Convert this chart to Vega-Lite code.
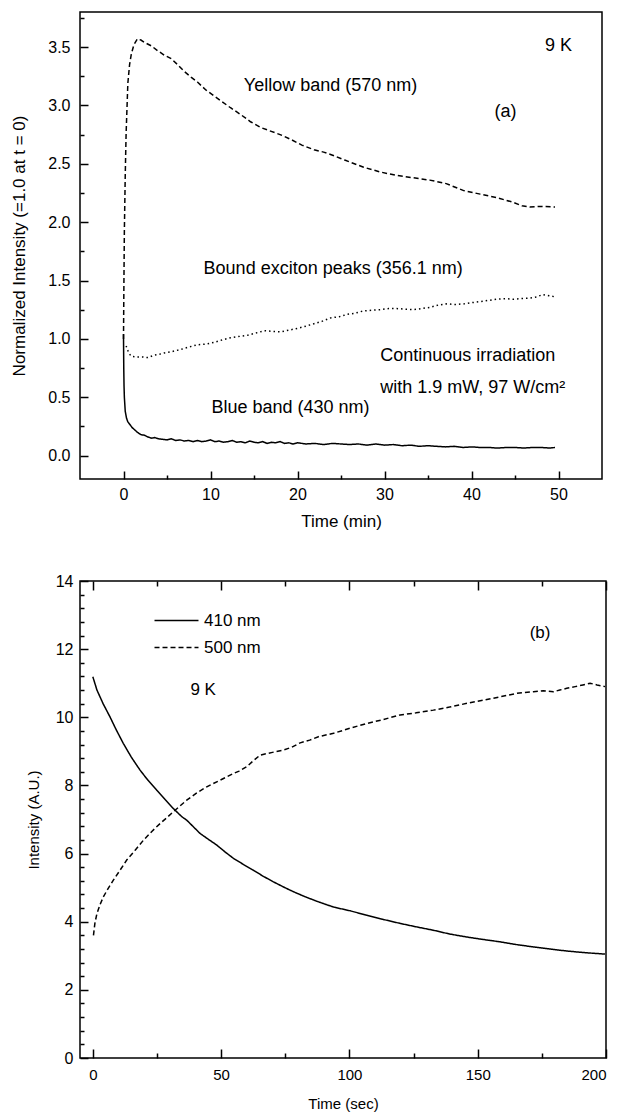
{
  "$schema": "https://vega.github.io/schema/vega-lite/v6.json",
  "padding": {"left": 10, "top": 9, "right": 5, "bottom": 5},
  "spacing": 42,
  "resolve": {"scale": {"strokeDash": "independent"}, "legend": {"strokeDash": "independent"}},
  "config": {
    "font": "Liberation Sans",
    "view": {"stroke": "black", "strokeWidth": 1.5},
    "axis": {"grid": false, "domain": false, "labelColor": "black", "titleColor": "black", "tickColor": "black", "tickWidth": 1.5, "titleFontWeight": "normal", "labelFontSize": 16, "titleFontSize": 17, "labelOverlap": false, "tickCount": 100}
  },
  "datasets": {
    "a": [
      {"t": 0, "v": 1.0, "s": "yellow"}, {"t": 0.05, "v": 1.5, "s": "yellow"}, {"t": 0.1, "v": 1.93, "s": "yellow"}, {"t": 0.2, "v": 2.4, "s": "yellow"}, {"t": 0.3, "v": 2.76, "s": "yellow"}, {"t": 0.5, "v": 3.19, "s": "yellow"}, {"t": 0.7, "v": 3.35, "s": "yellow"}, {"t": 0.9, "v": 3.44, "s": "yellow"}, {"t": 1.2, "v": 3.52, "s": "yellow"}, {"t": 1.6, "v": 3.57, "s": "yellow"}, {"t": 2.0, "v": 3.56, "s": "yellow"}, {"t": 2.4, "v": 3.54, "s": "yellow"}, {"t": 3.2, "v": 3.51, "s": "yellow"}, {"t": 3.9, "v": 3.47, "s": "yellow"}, {"t": 4.7, "v": 3.43, "s": "yellow"}, {"t": 5.5, "v": 3.4, "s": "yellow"}, {"t": 6.2, "v": 3.35, "s": "yellow"}, {"t": 7.0, "v": 3.29, "s": "yellow"}, {"t": 7.8, "v": 3.24, "s": "yellow"}, {"t": 8.5, "v": 3.2, "s": "yellow"}, {"t": 9.5, "v": 3.13, "s": "yellow"}, {"t": 10.8, "v": 3.06, "s": "yellow"}, {"t": 12.3, "v": 2.98, "s": "yellow"}, {"t": 13.5, "v": 2.92, "s": "yellow"}, {"t": 14.6, "v": 2.86, "s": "yellow"}, {"t": 15.8, "v": 2.81, "s": "yellow"}, {"t": 16.9, "v": 2.78, "s": "yellow"}, {"t": 18, "v": 2.75, "s": "yellow"}, {"t": 19.2, "v": 2.71, "s": "yellow"}, {"t": 20.5, "v": 2.66, "s": "yellow"}, {"t": 21.9, "v": 2.62, "s": "yellow"}, {"t": 23, "v": 2.6, "s": "yellow"}, {"t": 23.8, "v": 2.58, "s": "yellow"}, {"t": 25.5, "v": 2.53, "s": "yellow"}, {"t": 27.6, "v": 2.47, "s": "yellow"}, {"t": 29.5, "v": 2.43, "s": "yellow"}, {"t": 31.4, "v": 2.4, "s": "yellow"}, {"t": 33.3, "v": 2.38, "s": "yellow"}, {"t": 35.2, "v": 2.36, "s": "yellow"}, {"t": 37.1, "v": 2.33, "s": "yellow"}, {"t": 39.1, "v": 2.27, "s": "yellow"}, {"t": 41, "v": 2.24, "s": "yellow"}, {"t": 42.9, "v": 2.21, "s": "yellow"}, {"t": 44.8, "v": 2.17, "s": "yellow"}, {"t": 45.8, "v": 2.14, "s": "yellow"}, {"t": 46.7, "v": 2.13, "s": "yellow"}, {"t": 48, "v": 2.135, "s": "yellow"}, {"t": 49.6, "v": 2.13, "s": "yellow"},
      {"t": 0.3, "v": 0.94, "s": "bound"}, {"t": 0.6, "v": 0.88, "s": "bound"}, {"t": 0.9, "v": 0.85, "s": "bound"}, {"t": 1.5, "v": 0.845, "s": "bound"}, {"t": 2.2, "v": 0.845, "s": "bound"}, {"t": 2.8, "v": 0.84, "s": "bound"}, {"t": 3.5, "v": 0.86, "s": "bound"}, {"t": 4.2, "v": 0.87, "s": "bound"}, {"t": 4.7, "v": 0.88, "s": "bound"}, {"t": 5.5, "v": 0.89, "s": "bound"}, {"t": 6.6, "v": 0.91, "s": "bound"}, {"t": 7.5, "v": 0.93, "s": "bound"}, {"t": 8.5, "v": 0.95, "s": "bound"}, {"t": 9.5, "v": 0.955, "s": "bound"}, {"t": 10.4, "v": 0.97, "s": "bound"}, {"t": 11.3, "v": 0.99, "s": "bound"}, {"t": 12.3, "v": 1.01, "s": "bound"}, {"t": 13.2, "v": 1.02, "s": "bound"}, {"t": 14.2, "v": 1.03, "s": "bound"}, {"t": 15.2, "v": 1.05, "s": "bound"}, {"t": 16.2, "v": 1.07, "s": "bound"}, {"t": 17.1, "v": 1.065, "s": "bound"}, {"t": 18.1, "v": 1.06, "s": "bound"}, {"t": 19, "v": 1.075, "s": "bound"}, {"t": 20, "v": 1.09, "s": "bound"}, {"t": 21, "v": 1.11, "s": "bound"}, {"t": 21.9, "v": 1.13, "s": "bound"}, {"t": 22.8, "v": 1.15, "s": "bound"}, {"t": 23.8, "v": 1.18, "s": "bound"}, {"t": 24.8, "v": 1.19, "s": "bound"}, {"t": 25.7, "v": 1.21, "s": "bound"}, {"t": 26.6, "v": 1.22, "s": "bound"}, {"t": 27.6, "v": 1.24, "s": "bound"}, {"t": 28.5, "v": 1.245, "s": "bound"}, {"t": 29.5, "v": 1.25, "s": "bound"}, {"t": 30.5, "v": 1.26, "s": "bound"}, {"t": 31.4, "v": 1.26, "s": "bound"}, {"t": 32.4, "v": 1.255, "s": "bound"}, {"t": 33.3, "v": 1.25, "s": "bound"}, {"t": 34.3, "v": 1.26, "s": "bound"}, {"t": 35.2, "v": 1.27, "s": "bound"}, {"t": 36.2, "v": 1.29, "s": "bound"}, {"t": 37.1, "v": 1.3, "s": "bound"}, {"t": 38.1, "v": 1.295, "s": "bound"}, {"t": 39.1, "v": 1.3, "s": "bound"}, {"t": 40, "v": 1.31, "s": "bound"}, {"t": 41, "v": 1.32, "s": "bound"}, {"t": 42, "v": 1.33, "s": "bound"}, {"t": 42.9, "v": 1.34, "s": "bound"}, {"t": 43.9, "v": 1.345, "s": "bound"}, {"t": 44.8, "v": 1.34, "s": "bound"}, {"t": 45.7, "v": 1.345, "s": "bound"}, {"t": 46.7, "v": 1.35, "s": "bound"}, {"t": 47.5, "v": 1.36, "s": "bound"}, {"t": 48.2, "v": 1.38, "s": "bound"}, {"t": 48.9, "v": 1.37, "s": "bound"}, {"t": 49.6, "v": 1.36, "s": "bound"},
      {"t": 0, "v": 1.04, "s": "blue"}, {"t": 0.03, "v": 0.75, "s": "blue"}, {"t": 0.06, "v": 0.6, "s": "blue"}, {"t": 0.1, "v": 0.5, "s": "blue"}, {"t": 0.2, "v": 0.38, "s": "blue"}, {"t": 0.35, "v": 0.32, "s": "blue"}, {"t": 0.5, "v": 0.29, "s": "blue"}, {"t": 0.8, "v": 0.26, "s": "blue"}, {"t": 1.0, "v": 0.24, "s": "blue"}, {"t": 1.3, "v": 0.22, "s": "blue"}, {"t": 1.6, "v": 0.2, "s": "blue"}, {"t": 2.0, "v": 0.18, "s": "blue"}, {"t": 2.4, "v": 0.175, "s": "blue"}, {"t": 2.8, "v": 0.16, "s": "blue"}, {"t": 3.2, "v": 0.15, "s": "blue"}, {"t": 3.6, "v": 0.155, "s": "blue"}, {"t": 4.0, "v": 0.145, "s": "blue"}, {"t": 4.5, "v": 0.14, "s": "blue"}, {"t": 5.0, "v": 0.135, "s": "blue"}, {"t": 5.5, "v": 0.145, "s": "blue"}, {"t": 6.0, "v": 0.13, "s": "blue"}, {"t": 6.5, "v": 0.135, "s": "blue"}, {"t": 7, "v": 0.125, "s": "blue"}, {"t": 7.5, "v": 0.13, "s": "blue"}, {"t": 8, "v": 0.12, "s": "blue"}, {"t": 8.5, "v": 0.13, "s": "blue"}, {"t": 9, "v": 0.12, "s": "blue"}, {"t": 9.5, "v": 0.125, "s": "blue"}, {"t": 10, "v": 0.135, "s": "blue"}, {"t": 10.5, "v": 0.12, "s": "blue"}, {"t": 11, "v": 0.125, "s": "blue"}, {"t": 11.5, "v": 0.115, "s": "blue"}, {"t": 12, "v": 0.12, "s": "blue"}, {"t": 12.5, "v": 0.13, "s": "blue"}, {"t": 13, "v": 0.115, "s": "blue"}, {"t": 13.5, "v": 0.12, "s": "blue"}, {"t": 14, "v": 0.11, "s": "blue"}, {"t": 14.5, "v": 0.125, "s": "blue"}, {"t": 15, "v": 0.115, "s": "blue"}, {"t": 15.5, "v": 0.11, "s": "blue"}, {"t": 16, "v": 0.12, "s": "blue"}, {"t": 16.5, "v": 0.105, "s": "blue"}, {"t": 17, "v": 0.115, "s": "blue"}, {"t": 17.5, "v": 0.11, "s": "blue"}, {"t": 18, "v": 0.12, "s": "blue"}, {"t": 18.5, "v": 0.105, "s": "blue"}, {"t": 19, "v": 0.11, "s": "blue"}, {"t": 19.5, "v": 0.1, "s": "blue"}, {"t": 20, "v": 0.11, "s": "blue"}, {"t": 21, "v": 0.1, "s": "blue"}, {"t": 22, "v": 0.105, "s": "blue"}, {"t": 23, "v": 0.095, "s": "blue"}, {"t": 24, "v": 0.105, "s": "blue"}, {"t": 25, "v": 0.1, "s": "blue"}, {"t": 26, "v": 0.095, "s": "blue"}, {"t": 27, "v": 0.1, "s": "blue"}, {"t": 28, "v": 0.09, "s": "blue"}, {"t": 29, "v": 0.1, "s": "blue"}, {"t": 30, "v": 0.09, "s": "blue"}, {"t": 31, "v": 0.095, "s": "blue"}, {"t": 32, "v": 0.085, "s": "blue"}, {"t": 33, "v": 0.09, "s": "blue"}, {"t": 34, "v": 0.08, "s": "blue"}, {"t": 35, "v": 0.085, "s": "blue"}, {"t": 36, "v": 0.08, "s": "blue"}, {"t": 37, "v": 0.075, "s": "blue"}, {"t": 38, "v": 0.08, "s": "blue"}, {"t": 39, "v": 0.07, "s": "blue"}, {"t": 40, "v": 0.075, "s": "blue"}, {"t": 41, "v": 0.07, "s": "blue"}, {"t": 42, "v": 0.07, "s": "blue"}, {"t": 43, "v": 0.065, "s": "blue"}, {"t": 44, "v": 0.07, "s": "blue"}, {"t": 45, "v": 0.07, "s": "blue"}, {"t": 46, "v": 0.065, "s": "blue"}, {"t": 47, "v": 0.07, "s": "blue"}, {"t": 48, "v": 0.07, "s": "blue"}, {"t": 49, "v": 0.065, "s": "blue"}, {"t": 49.6, "v": 0.07, "s": "blue"}
    ],
    "aText": [
      {"t": 50.0, "v": 3.51, "label": "9 K"},
      {"t": 23.8, "v": 3.17, "label": "Yellow band (570 nm)"},
      {"t": 43.9, "v": 2.94, "label": "(a)"},
      {"t": 24.1, "v": 1.6, "label": "Bound exciton peaks (356.1 nm)"},
      {"t": 19.2, "v": 0.41, "label": "Blue band (430 nm)"}
    ],
    "aTextLeft": [
      {"t": 29.5, "v": 0.85, "label": "Continuous irradiation"},
      {"t": 29.5, "v": 0.58, "label": "with 1.9 mW, 97 W/cm²"}
    ],
    "b": [
      {"t": 0, "v": 11.19, "s": "410 nm"}, {"t": 1.6, "v": 10.8, "s": "410 nm"}, {"t": 4, "v": 10.4, "s": "410 nm"}, {"t": 6.7, "v": 10.01, "s": "410 nm"}, {"t": 9, "v": 9.65, "s": "410 nm"}, {"t": 11.9, "v": 9.23, "s": "410 nm"}, {"t": 15, "v": 8.83, "s": "410 nm"}, {"t": 18.4, "v": 8.45, "s": "410 nm"}, {"t": 21.5, "v": 8.15, "s": "410 nm"}, {"t": 24.9, "v": 7.86, "s": "410 nm"}, {"t": 28, "v": 7.6, "s": "410 nm"}, {"t": 31.4, "v": 7.32, "s": "410 nm"}, {"t": 34.7, "v": 7.08, "s": "410 nm"}, {"t": 36.6, "v": 6.98, "s": "410 nm"}, {"t": 39, "v": 6.8, "s": "410 nm"}, {"t": 41.8, "v": 6.59, "s": "410 nm"}, {"t": 45, "v": 6.42, "s": "410 nm"}, {"t": 48.3, "v": 6.25, "s": "410 nm"}, {"t": 51.5, "v": 6.05, "s": "410 nm"}, {"t": 54.8, "v": 5.86, "s": "410 nm"}, {"t": 58.7, "v": 5.68, "s": "410 nm"}, {"t": 62.6, "v": 5.51, "s": "410 nm"}, {"t": 66.5, "v": 5.33, "s": "410 nm"}, {"t": 70.4, "v": 5.17, "s": "410 nm"}, {"t": 74.3, "v": 5.02, "s": "410 nm"}, {"t": 78.2, "v": 4.88, "s": "410 nm"}, {"t": 82.5, "v": 4.74, "s": "410 nm"}, {"t": 87.3, "v": 4.6, "s": "410 nm"}, {"t": 93.8, "v": 4.43, "s": "410 nm"}, {"t": 100.3, "v": 4.32, "s": "410 nm"}, {"t": 106.8, "v": 4.19, "s": "410 nm"}, {"t": 113, "v": 4.07, "s": "410 nm"}, {"t": 119.8, "v": 3.95, "s": "410 nm"}, {"t": 126, "v": 3.85, "s": "410 nm"}, {"t": 132.7, "v": 3.75, "s": "410 nm"}, {"t": 139, "v": 3.64, "s": "410 nm"}, {"t": 145.8, "v": 3.55, "s": "410 nm"}, {"t": 152, "v": 3.48, "s": "410 nm"}, {"t": 158.7, "v": 3.41, "s": "410 nm"}, {"t": 165, "v": 3.33, "s": "410 nm"}, {"t": 171.7, "v": 3.26, "s": "410 nm"}, {"t": 178, "v": 3.2, "s": "410 nm"}, {"t": 184.7, "v": 3.14, "s": "410 nm"}, {"t": 192, "v": 3.09, "s": "410 nm"}, {"t": 199.6, "v": 3.05, "s": "410 nm"},
      {"t": 0.25, "v": 3.6, "s": "500 nm"}, {"t": 0.8, "v": 3.95, "s": "500 nm"}, {"t": 1.6, "v": 4.24, "s": "500 nm"}, {"t": 2.8, "v": 4.5, "s": "500 nm"}, {"t": 4.1, "v": 4.73, "s": "500 nm"}, {"t": 6, "v": 4.98, "s": "500 nm"}, {"t": 8, "v": 5.22, "s": "500 nm"}, {"t": 10.5, "v": 5.5, "s": "500 nm"}, {"t": 13.2, "v": 5.81, "s": "500 nm"}, {"t": 16.5, "v": 6.1, "s": "500 nm"}, {"t": 19.7, "v": 6.39, "s": "500 nm"}, {"t": 23, "v": 6.65, "s": "500 nm"}, {"t": 26.2, "v": 6.88, "s": "500 nm"}, {"t": 28.8, "v": 7.05, "s": "500 nm"}, {"t": 31.4, "v": 7.23, "s": "500 nm"}, {"t": 34, "v": 7.4, "s": "500 nm"}, {"t": 36.6, "v": 7.57, "s": "500 nm"}, {"t": 40.5, "v": 7.78, "s": "500 nm"}, {"t": 44.4, "v": 7.96, "s": "500 nm"}, {"t": 49.5, "v": 8.15, "s": "500 nm"}, {"t": 54.8, "v": 8.35, "s": "500 nm"}, {"t": 57, "v": 8.42, "s": "500 nm"}, {"t": 60, "v": 8.55, "s": "500 nm"}, {"t": 62.5, "v": 8.72, "s": "500 nm"}, {"t": 65.2, "v": 8.89, "s": "500 nm"}, {"t": 70, "v": 8.97, "s": "500 nm"}, {"t": 74.3, "v": 9.04, "s": "500 nm"}, {"t": 77.5, "v": 9.12, "s": "500 nm"}, {"t": 80.8, "v": 9.25, "s": "500 nm"}, {"t": 84.5, "v": 9.33, "s": "500 nm"}, {"t": 87.9, "v": 9.43, "s": "500 nm"}, {"t": 93.8, "v": 9.53, "s": "500 nm"}, {"t": 100.3, "v": 9.68, "s": "500 nm"}, {"t": 106.8, "v": 9.82, "s": "500 nm"}, {"t": 113, "v": 9.93, "s": "500 nm"}, {"t": 119.8, "v": 10.07, "s": "500 nm"}, {"t": 126, "v": 10.13, "s": "500 nm"}, {"t": 132.7, "v": 10.21, "s": "500 nm"}, {"t": 139, "v": 10.3, "s": "500 nm"}, {"t": 145.8, "v": 10.41, "s": "500 nm"}, {"t": 152, "v": 10.5, "s": "500 nm"}, {"t": 158.7, "v": 10.6, "s": "500 nm"}, {"t": 165, "v": 10.7, "s": "500 nm"}, {"t": 171.7, "v": 10.75, "s": "500 nm"}, {"t": 175.5, "v": 10.78, "s": "500 nm"}, {"t": 179.5, "v": 10.75, "s": "500 nm"}, {"t": 182, "v": 10.8, "s": "500 nm"}, {"t": 184.7, "v": 10.85, "s": "500 nm"}, {"t": 188, "v": 10.9, "s": "500 nm"}, {"t": 191, "v": 10.95, "s": "500 nm"}, {"t": 193.8, "v": 11.0, "s": "500 nm"}, {"t": 196.5, "v": 10.95, "s": "500 nm"}, {"t": 199.6, "v": 10.9, "s": "500 nm"}
    ],
    "bText": [
      {"t": 43, "v": 10.8, "label": "9 K"},
      {"t": 174.3, "v": 12.47, "label": "(b)"}
    ]
  },
  "vconcat": [
    {
      "width": 522,
      "height": 467,
      "layer": [
        {
          "data": {"name": "a"},
          "mark": {"type": "line", "color": "black", "strokeWidth": 1.5},
          "encoding": {
            "x": {"field": "t", "type": "quantitative", "scale": {"domain": [-5, 55], "nice": false, "zero": false},
              "axis": {"title": "Time (min)", "format": "d", "labelOverlap": false, "tickCount": 100, "values": [0, 5, 10, 15, 20, 25, 30, 35, 40, 45, 50], "labelExpr": "datum.value % 10 === 0 ? datum.label : ''", "tickSize": {"expr": "(datum.value % 10 === 0 ? -8 : -4)"}, "labelPadding": 15, "titlePadding": 7}},
            "y": {"field": "v", "type": "quantitative", "scale": {"domain": [-0.2, 3.8], "nice": false, "zero": false},
              "axis": {"title": "Normalized Intensity (=1.0 at t = 0)", "labelOverlap": false, "tickCount": 100, "format": ".1f", "values": [0, 0.25, 0.5, 0.75, 1, 1.25, 1.5, 1.75, 2, 2.25, 2.5, 2.75, 3, 3.25, 3.5, 3.75], "labelExpr": "abs(datum.value*2 - round(datum.value*2)) < 0.001 ? datum.label : ''", "tickSize": {"expr": "(abs(datum.value*2 - round(datum.value*2)) < 0.001 ? -8 : -4)"}, "labelPadding": 18, "titlePadding": 19}},
            "strokeDash": {"field": "s", "type": "nominal", "scale": {"domain": ["yellow", "bound", "blue"], "range": [[5, 3], [1.5, 3], [1, 0]]}, "legend": null},
            "detail": {"field": "s"}
          }
        },
        {
          "data": {"name": "aText"},
          "mark": {"type": "text", "fontSize": 18, "align": "center", "baseline": "middle", "color": "black"},
          "encoding": {"x": {"field": "t", "type": "quantitative"}, "y": {"field": "v", "type": "quantitative"}, "text": {"field": "label"}}
        },
        {
          "data": {"name": "aTextLeft"},
          "mark": {"type": "text", "fontSize": 18, "align": "left", "baseline": "middle", "color": "black"},
          "encoding": {"x": {"field": "t", "type": "quantitative"}, "y": {"field": "v", "type": "quantitative"}, "text": {"field": "label"}}
        }
      ]
    },
    {
      "width": 526,
      "height": 477,
      "resolve": {"axis": {"x": "independent"}},
      "layer": [
        {
          "data": {"name": "b"},
          "mark": {"type": "line", "color": "black", "strokeWidth": 1.5},
          "encoding": {
            "x": {"field": "t", "type": "quantitative", "scale": {"domain": [-5, 200], "nice": false, "zero": false},
              "axis": {"title": "Time (sec)", "format": "d", "labelOverlap": false, "tickCount": 100, "titleFontSize": 15, "labelFontSize": 15, "values": [0, 25, 50, 75, 100, 125, 150, 175, 200], "labelExpr": "datum.value % 50 === 0 ? datum.label : ''", "tickSize": {"expr": "(datum.value % 50 === 0 ? -9 : -5)"}, "labelPadding": 18, "titlePadding": 10}},
            "y": {"field": "v", "type": "quantitative", "scale": {"domain": [0, 14], "nice": false},
              "axis": {"title": "Intensity (A.U.)", "labelOverlap": false, "tickCount": 100, "titleFontSize": 15, "labelFontSize": 16, "values": [0, 0.4, 0.8, 1.2, 1.6, 2, 2.4, 2.8, 3.2, 3.6, 4, 4.4, 4.8, 5.2, 5.6, 6, 6.4, 6.8, 7.2, 7.6, 8, 8.4, 8.8, 9.2, 9.6, 10, 10.4, 10.8, 11.2, 11.6, 12, 12.4, 12.8, 13.2, 13.6, 14], "labelExpr": "abs(datum.value/2 - round(datum.value/2)) < 0.001 ? format(datum.value, 'd') : ''", "tickSize": {"expr": "(abs(datum.value/2 - round(datum.value/2)) < 0.001 ? -8 : -4)"}, "labelPadding": 15, "titlePadding": 14}},
            "strokeDash": {"field": "s", "type": "nominal", "scale": {"domain": ["410 nm", "500 nm"], "range": [[1, 0], [5, 3]]},
              "legend": {"title": null, "orient": "none", "legendX": 82, "legendY": 25, "symbolType": "M-1.6,0H1.6", "symbolSize": 756, "symbolFillColor": "transparent", "symbolStrokeColor": "black", "symbolStrokeWidth": 1.5, "labelFontSize": 17, "labelColor": "black", "rowPadding": 4, "labelOffset": 13}}
          }
        },
        {
          "data": {"name": "bText"},
          "mark": {"type": "text", "fontSize": 17, "align": "center", "baseline": "middle", "color": "black"},
          "encoding": {
            "x": {"field": "t", "type": "quantitative", "axis": {"orient": "top", "title": null, "labels": false, "tickCount": 100, "values": [0, 25, 50, 75, 100, 125, 150, 175, 200], "tickSize": {"expr": "(datum.value % 50 === 0 ? -9 : -5)"}}},
            "y": {"field": "v", "type": "quantitative"},
            "text": {"field": "label"}
          }
        }
      ]
    }
  ]
}
